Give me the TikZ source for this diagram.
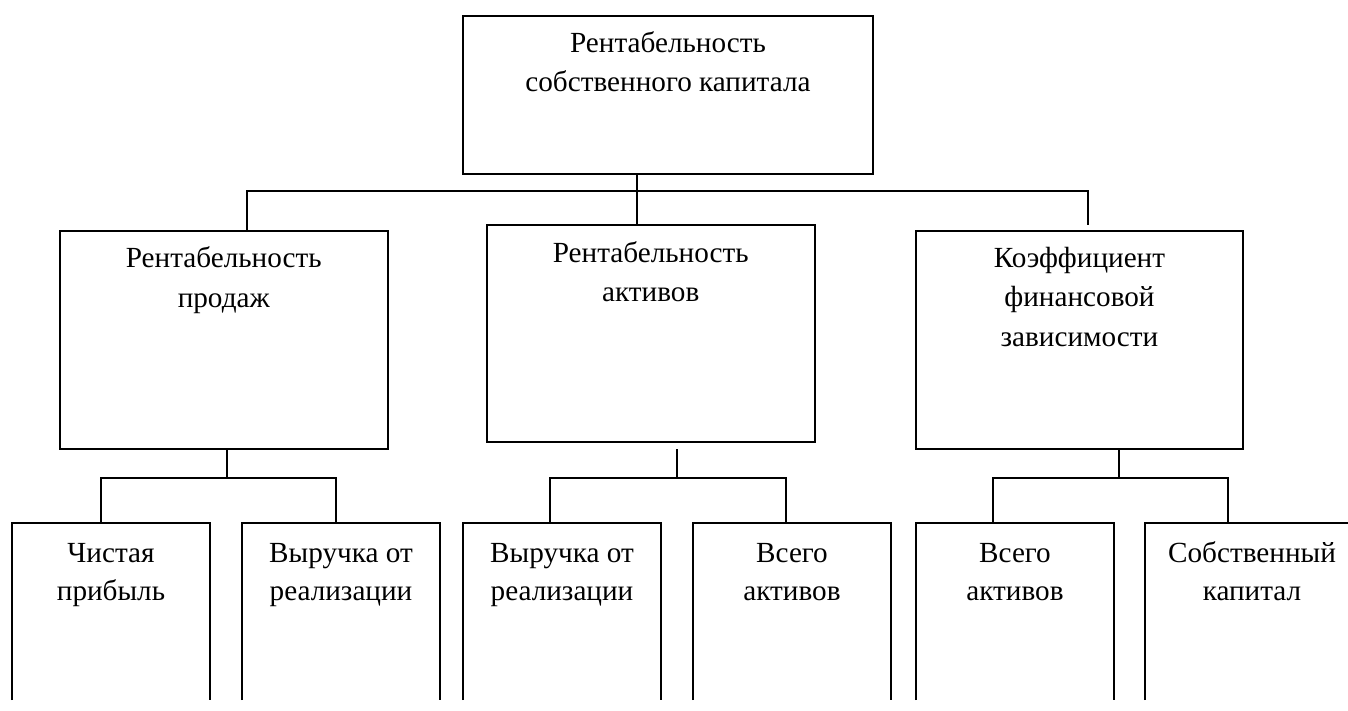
\documentclass[tikz,border=0pt]{standalone}
\usepackage{fontspec}
\setmainfont{Liberation Serif}
\begin{document}
\begin{tikzpicture}[x=1pt,y=-1pt,
  box/.style={draw, line width=2pt, rectangle, inner sep=0pt},
  lbl/.style={anchor=base, align=center, inner sep=0pt, font=\fontsize{29.2}{39.5}\selectfont},
  lbls/.style={anchor=base, align=center, inner sep=0pt, font=\fontsize{29.2}{38}\selectfont},
  conn/.style={line width=2pt},
  openbox/.style={inner sep=0pt, minimum width=198pt, minimum height=176.7pt}]
\clip (0,0) rectangle (1348,710);
\useasboundingbox (0,0) rectangle (1348,710);

% level 1
\node[box, minimum width=410pt, minimum height=158.6pt] (top) at (668,95) {};
\node[lbl] (ttop) at ([yshift=-77pt]top.north) {Рентабельность\\собственного капитала};

% level 2
\node[box, minimum width=327.5pt, minimum height=218pt] (L) at (223.75,340) {};
\node[lbl] (tL) at ([yshift=-77pt]L.north) {Рентабельность\\продаж};
\node[box, minimum width=327.5pt, minimum height=217.3pt] (M) at (650.75,333.65) {};
\node[lbl] (tM) at ([yshift=-77.5pt]M.north) {Рентабельность\\активов};
\node[box, minimum width=327pt, minimum height=218pt] (R) at (1079.5,340) {};
\node[lbl] (tR) at ([yshift=-116.3pt]R.north) {Коэффициент\\финансовой\\зависимости};

% level 3 (open at the bottom)
\node[openbox] (b1) at (111,611.65) {};
\node[openbox] (b2) at (341,611.65) {};
\node[openbox] (b3) at (562,611.65) {};
\node[openbox] (b4) at (792,611.65) {};
\node[openbox] (b5) at (1015,611.65) {};
\node[openbox, minimum width=214pt] (b6) at (1252,611.65) {};
\foreach \b in {b1,b2,b3,b4,b5,b6}
  \draw[conn] (\b.south west) -- (\b.north west) -- (\b.north east) -- (\b.south east);
\node[lbls] (tb1) at ([yshift=-77pt]b1.north) {Чистая\\прибыль};
\node[lbls] (tb2) at ([yshift=-77pt]b2.north) {Выручка от\\реализации};
\node[lbls] (tb3) at ([yshift=-77pt]b3.north) {Выручка от\\реализации};
\node[lbls] (tb4) at ([yshift=-77pt]b4.north) {Всего\\активов};
\node[lbls] (tb5) at ([yshift=-77pt]b5.north) {Всего\\активов};
\node[lbls] (tb6) at ([yshift=-77pt]b6.north) {Собственный\\капитал};

% connectors level 1 -> 2
\coordinate (j0) at (636.7,190.5);
\coordinate (jL) at (247,190.5);
\coordinate (jR) at (1087.5,190.5);
\coordinate (jRe) at (1087.5,225);
\draw[conn] (top.south -| j0) -- (j0);
\draw[conn] (L.north -| jL) -- (jL) -- (jR) -- (jRe);
\draw[conn] (j0) -- (M.north -| j0);

% connectors level 2 -> 3
\coordinate (k1) at (226.8,477.7);
\coordinate (k1a) at (101.3,477.7);
\coordinate (k1b) at (335.7,477.7);
\draw[conn] (L.south -| k1) -- (k1);
\draw[conn] (b1.north -| k1a) -- (k1a) -- (k1b) -- (b2.north -| k1b);

\coordinate (k2s) at (677,449);
\coordinate (k2) at (677,477.7);
\coordinate (k2a) at (550.4,477.7);
\coordinate (k2b) at (785.5,477.7);
\draw[conn] (k2s) -- (k2);
\draw[conn] (b3.north -| k2a) -- (k2a) -- (k2b) -- (b4.north -| k2b);

\coordinate (k3) at (1119.4,477.7);
\coordinate (k3a) at (993,477.7);
\coordinate (k3b) at (1228.4,477.7);
\draw[conn] (R.south -| k3) -- (k3);
\draw[conn] (b5.north -| k3a) -- (k3a) -- (k3b) -- (b6.north -| k3b);
\end{tikzpicture}
\end{document}
